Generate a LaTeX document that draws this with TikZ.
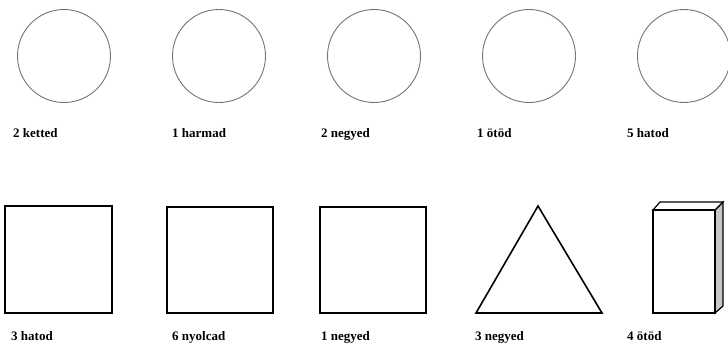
\documentclass[tikz,border=0pt]{standalone}
\usepackage{fontspec}
\setmainfont{Liberation Serif}
\begin{document}
\begin{tikzpicture}[x=1pt,y=-1pt,
  ring/.style={circle,draw=black!55,line width=0.9pt,minimum size=93pt,inner sep=0pt},
  frac/.style={anchor=base west,inner sep=0pt,font=\fontsize{13}{15}\selectfont\bfseries},
  solid shape/.style={draw=black,line width=1.6pt,line join=miter}]
\useasboundingbox (0,0) rectangle (728,354);
% top row: circles
\node[ring] (c1) at (64,56) {};
\node[ring] (c2) at (219,56) {};
\node[ring] (c3) at (374,56) {};
\node[ring] (c4) at (529,56) {};
\node[ring] (c5) at (684,56) {};
\node[frac] (l1) at (13,137) {2 ketted};
\node[frac] (l2) at (172,137) {1 harmad};
\node[frac] (l3) at (321,137) {2 negyed};
\node[frac] (l4) at (477,137) {1 ötöd};
\node[frac] (l5) at (627,137) {5 hatod};
% bottom row
\draw[solid shape] (5,206) rectangle (112,313);
\draw[solid shape] (167,207) rectangle (273,313);
\draw[solid shape] (320,207) rectangle (426,313);
\coordinate (ta) at (538,206);
\coordinate (tl) at (476,313);
\coordinate (tr) at (602,313);
\draw[solid shape] (ta) -- (tl) -- (tr) -- cycle;
% box
\coordinate (fa) at (653,210);
\coordinate (fb) at (715,210);
\coordinate (fc) at (715,313);
\coordinate (fd) at (653,313);
\coordinate (ba) at (660,202);
\coordinate (bb) at (723,202);
\coordinate (bc) at (723,306);
\draw[solid shape,fill=black!22,line width=1.2pt] (fb) -- (bb) -- (bc) -- (fc) -- cycle;
\draw[solid shape,fill=white,line width=1.2pt] (fa) -- (ba) -- (bb) -- (fb) -- cycle;
\draw[solid shape] (fa) rectangle (fc);
\node[frac] (m1) at (11,340) {3 hatod};
\node[frac] (m2) at (172,340) {6 nyolcad};
\node[frac] (m3) at (321,340) {1 negyed};
\node[frac] (m4) at (475,340) {3 negyed};
\node[frac] (m5) at (627,340) {4 ötöd};
\end{tikzpicture}
\end{document}
